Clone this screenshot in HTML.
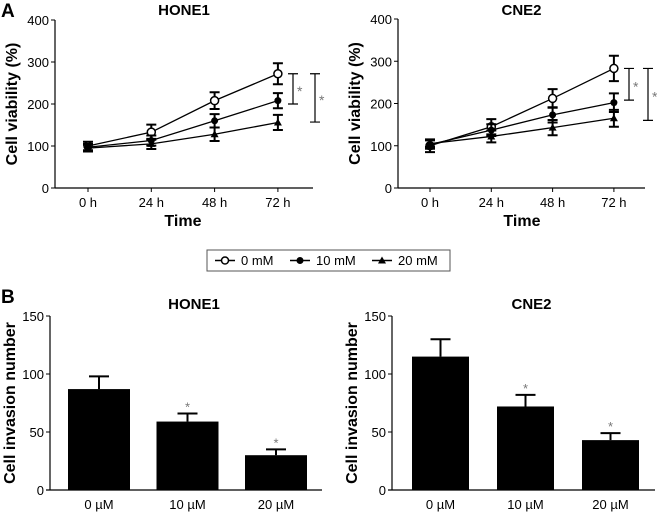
<!DOCTYPE html>
<html><head><meta charset="utf-8"><style>
body{margin:0;background:#fff}
svg text{font-family:"Liberation Sans",Arial,sans-serif}
</style></head><body>
<svg id="fig" width="657" height="513" viewBox="0 0 657 513" xmlns="http://www.w3.org/2000/svg">
<text x="1" y="17" font-size="19" font-weight="bold">A</text>
<text x="1" y="303" font-size="19" font-weight="bold">B</text>
<g>
<rect x="207" y="250" width="243" height="21" fill="#fff" stroke="#555" stroke-width="1"/>
<g><line x1="215" y1="260.5" x2="235" y2="260.5" stroke="#000" stroke-width="1.5"/><circle cx="225" cy="260.5" r="3.5" fill="#fff" stroke="#000" stroke-width="1.5"/><text x="241" y="265" font-size="13">0 mM</text></g>
<g><line x1="290" y1="260.5" x2="310" y2="260.5" stroke="#000" stroke-width="1.5"/><circle cx="300" cy="260.5" r="3.5" fill="#000"/><text x="316" y="265" font-size="13">10 mM</text></g>
<g><line x1="372" y1="260.5" x2="392" y2="260.5" stroke="#000" stroke-width="1.5"/><path d="M382 256.5 L386 263.5 L378 263.5 Z" fill="#000"/><text x="398" y="265" font-size="13">20 mM</text></g>
</g>
</svg>
<script>
const timeLabels=["0 h","24 h","48 h","72 h"];
const lineTicks=[0,100,200,300,400];
const hone1Mean0=[100,133,208,272], hone1Err0=[10,18,20,25];
const hone1Mean10=[97,113,160,208], hone1Err10=[8,12,16,18];
const hone1Mean20=[95,105,128,156], hone1Err20=[8,12,16,18];
const cne2Mean0=[100,145,212,283], cne2Err0=[15,18,22,30];
const cne2Mean10=[103,137,173,202], cne2Err10=[10,14,18,22];
const cne2Mean20=[105,122,143,165], cne2Err20=[8,14,18,20];
const hone1Brackets=[[272,200],[272,157]];
const cne2Brackets=[[283,208],[283,160]];
const barCats=["0 µM","10 µM","20 µM"];
const barTicks=[0,50,100,150];
const hone1Bars=[87,59,30], hone1BarErr=[11,7,5];
const cne2Bars=[115,72,43], cne2BarErr=[15,10,6];
const barSig=[false,true,true];

const svg=document.getElementById('fig');
const NS="http://www.w3.org/2000/svg";
function mk(tag,at,parent,txt){const e=document.createElementNS(NS,tag);for(const k in at)e.setAttribute(k,at[k]);if(txt!==undefined)e.textContent=txt;(parent||svg).appendChild(e);return e;}

function linePanel(name,title,ax,axEnd,x0,dx,top,bot,series,brackets,bx){
  const g=mk('g',{});
  
  
  const y=v=>bot-(v/400)*(bot-top);
  const x=i=>x0+i*dx;
  const t=mk('text',{x:(ax+axEnd)/2,y:15,'font-size':15,'font-weight':'bold','text-anchor':'middle'},g,title);
  
  
  mk('line',{x1:ax,y1:top,x2:ax,y2:bot,stroke:'#000','stroke-width':1.2},g);
  mk('line',{x1:ax,y1:bot,x2:axEnd,y2:bot,stroke:'#000','stroke-width':1.2},g);
  lineTicks.forEach(v=>{mk('line',{x1:ax-4,y1:y(v),x2:ax,y2:y(v),stroke:'#000'},g);
    const l=mk('text',{x:ax-6,y:y(v)+5,'font-size':13,'text-anchor':'end'},g,v);
    
    });
  timeLabels.forEach((s,i)=>{mk('line',{x1:x(i),y1:bot,x2:x(i),y2:bot+4,stroke:'#000'},g);
    const l=mk('text',{x:x(i),y:bot+19,'font-size':13,'text-anchor':'middle'},g,s);
    
    });
  const xt=mk('text',{x:x(1.5),y:bot+38,'font-size':16,'font-weight':'bold','text-anchor':'middle'},g,'Time');
  
  
  const yt=mk('text',{x:0,y:0,'font-size':16,'font-weight':'bold','text-anchor':'middle',transform:`translate(${ax-38},${(top+bot)/2}) rotate(-90)`},g,'Cell viability (%)');
  
  
  series.forEach(([m,e,type],si)=>{
    const sg=mk('g',{},g);
    
    
    mk('polyline',{points:m.map((v,i)=>x(i)+','+y(v)).join(' '),fill:'none',stroke:'#000','stroke-width':1.3},sg);
    m.forEach((v,i)=>{
      const cx=x(i),cy=y(v),hi=y(v+e[i]),lo=y(v-e[i]);
      mk('path',{d:`M${cx} ${hi}V${lo}M${cx-5} ${hi}H${cx+5}M${cx-5} ${lo}H${cx+5}`,stroke:'#000','stroke-width':2,fill:'none'},sg);
      let p;
      if(type==='0mm')p=mk('circle',{cx,cy,r:4,fill:'#fff',stroke:'#000','stroke-width':1.5},sg);
      else if(type==='10mm')p=mk('circle',{cx,cy,r:3.5,fill:'#000'},sg);
      else p=mk('path',{d:`M${cx} ${cy-4}L${cx+4} ${cy+3}L${cx-4} ${cy+3}Z`,fill:'#000'},sg);
      
      
    });
  });
  brackets.forEach(([a,b],k)=>{
    const xx=bx[k];
    const br=mk('path',{d:`M${xx-5} ${y(a)}H${xx+5}M${xx} ${y(a)}V${y(b)}M${xx-5} ${y(b)}H${xx+5}`,stroke:'#000','stroke-width':1.2,fill:'none'},g);
    
    
    mk('text',{x:xx+4,y:(y(a)+y(b))/2+7,'font-size':14,fill:'#777'},g,'*');
  });
}
function barPanel(name,title,ax,axEnd,bx0,bdx,bw,top,bot,vals,errs){
  const g=mk('g',{});
  
  
  const y=v=>bot-(v/150)*(bot-top);
  const t=mk('text',{x:(ax+axEnd)/2+8,y:309,'font-size':15,'font-weight':'bold','text-anchor':'middle'},g,title);
  
  
  vals.forEach((v,i)=>{
    const x=bx0+i*bdx;
    const r=mk('rect',{x,y:y(v),width:bw,height:bot-y(v),fill:'#000'},g);
    
    
    const cx=x+bw/2,hi=y(v+errs[i]);
    mk('path',{d:`M${cx} ${y(v)}V${hi}M${cx-10} ${hi}H${cx+10}`,stroke:'#000','stroke-width':2,fill:'none'},g);
    if(barSig[i])mk('text',{x:cx,y:hi-2,'font-size':13,fill:'#777','text-anchor':'middle'},g,'*');
    const l=mk('text',{x:cx,y:bot+19,'font-size':13,'text-anchor':'middle'},g,barCats[i]);
    
    
  });
  mk('line',{x1:ax,y1:top,x2:ax,y2:bot,stroke:'#000','stroke-width':1.2},g);
  mk('line',{x1:ax-4,y1:bot,x2:axEnd,y2:bot,stroke:'#000','stroke-width':1.2},g);
  barTicks.forEach(v=>{mk('line',{x1:ax-4,y1:y(v),x2:ax,y2:y(v),stroke:'#000'},g);
    const l=mk('text',{x:ax-6,y:y(v)+5,'font-size':13,'text-anchor':'end'},g,v);
    
    });
  const yt=mk('text',{x:0,y:0,'font-size':16,'font-weight':'bold','text-anchor':'middle',transform:`translate(${ax-35},${(top+bot)/2}) rotate(-90)`},g,'Cell invasion number');
  
  
}
linePanel('hone1','HONE1',55,313,88,63.3,20,188,[[hone1Mean0,hone1Err0,'0mm'],[hone1Mean10,hone1Err10,'10mm'],[hone1Mean20,hone1Err20,'20mm']],hone1Brackets,[293,315]);
linePanel('cne2','CNE2',398,645,430,61.3,19,188,[[cne2Mean0,cne2Err0,'0mm'],[cne2Mean10,cne2Err10,'10mm'],[cne2Mean20,cne2Err20,'20mm']],cne2Brackets,[629,648]);
barPanel('hone1','HONE1',50,322,68,88.5,62,316,490,hone1Bars,hone1BarErr);
barPanel('cne2','CNE2',392,655,412,85,57,316,490,cne2Bars,cne2BarErr);
</script>
</body></html>
